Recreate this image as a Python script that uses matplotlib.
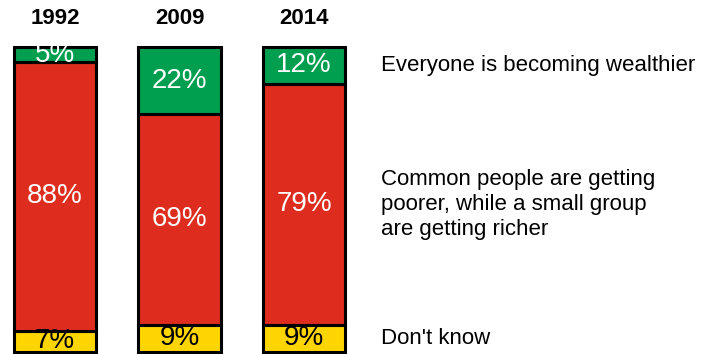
import matplotlib
matplotlib.use("Agg")
import matplotlib.pyplot as plt
import numpy as np

plt.rcParams['font.family'] = ['Liberation Sans', 'DejaVu Sans']

years = ["1992", "2009", "2014"]
dont_know = [7, 9, 9]
poorer = [88, 69, 79]
wealthier = [5, 22, 12]
series_labels = ["Don't know",
                 "Common people are getting\npoorer, while a small group\nare getting richer",
                 "Everyone is becoming wealthier"]

colors = ["#FFD500", "#DE2C1E", "#009E4F"]
text_colors = ["black", "white", "white"]

W, H = 713, 354
fig = plt.figure(figsize=(W / 100, H / 100), dpi=100)
ax = fig.add_axes([0, 0, 1, 1])

x0_px, step_px = 55.0, 124.5
y0_px, unit_px = 2.0, 3.05
ax.set_xlim(-x0_px / step_px, (W - x0_px) / step_px)
ax.set_ylim(-y0_px / unit_px, (H - y0_px) / unit_px)
ax.axis('off')

x = np.arange(len(years))
bottoms = np.zeros(len(years))
stack = [dont_know, poorer, wealthier]
for vals, c, tc in zip(stack, colors, text_colors):
    vals = np.array(vals, dtype=float)
    ax.bar(x, vals, bottom=bottoms, width=0.66, color=c, edgecolor='black', linewidth=2.2)
    for xi, b, v in zip(x, bottoms, vals):
        ax.text(xi, b + v / 2, f"{int(v)}%", ha='center', va='center', color=tc, fontsize=20)
    bottoms = bottoms + vals

for xi, y in zip(x, years):
    ax.text(xi, 109.5, y, ha='center', va='center', fontsize=16, fontweight='bold')

# right-side labels aligned with last bar's segments
last_b = 0
tx = (381 - x0_px) / step_px
for vals, lab in zip(stack, series_labels):
    v = vals[-1]
    ax.text(tx, last_b + v / 2, lab, ha='left', va='center', fontsize=16, linespacing=1.25)
    last_b += v

fig.savefig("out.png", dpi=100)
